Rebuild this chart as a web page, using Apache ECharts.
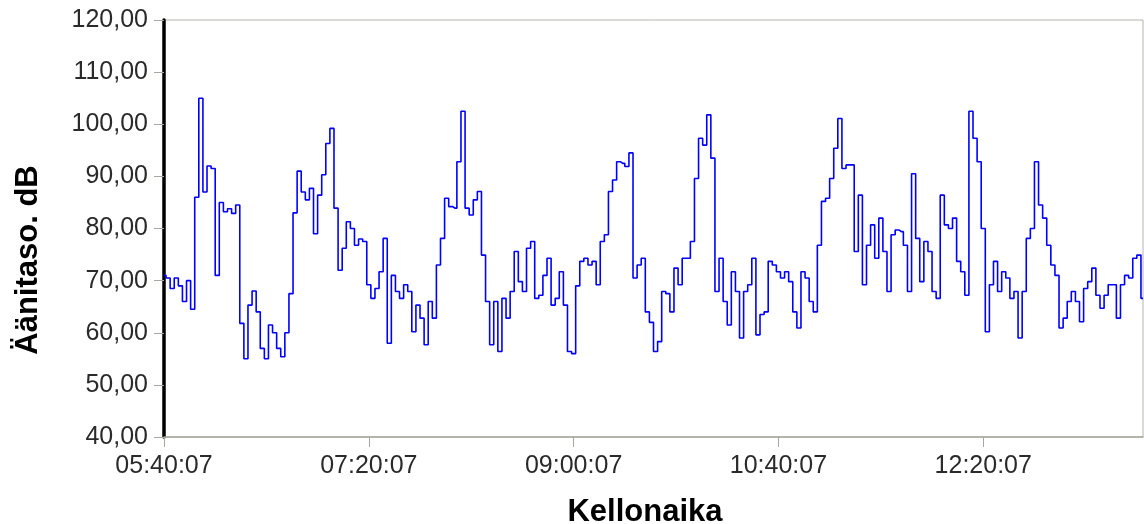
<!DOCTYPE html>
<html>
<head>
<meta charset="utf-8">
<script src="https://cdn.jsdelivr.net/npm/echarts@6/dist/echarts.min.js"></script>
<style>
  html, body { margin: 0; padding: 0; background: #fff; }
  #chart { width: 1144px; height: 524px; }
</style>
</head>
<body>
<div id="chart"></div>
<script>
// Sound level readings, one every two minutes from 05:40:07
const startTime = '05:40:07';
const stepMinutes = 2;
const levels = [
  71, 70.5, 68.5, 70.5, 69, 66, 70, 64.5, 86, 105,
  87, 92, 91.5, 71, 85, 83.2, 83.8, 82.9, 84.5, 61.8,
  55, 65.3, 68, 64, 57, 55, 61.5, 60, 57, 55.4,
  60, 67.5, 83, 91, 87, 85.5, 87.7, 79, 86.4, 90.3,
  96.3, 99.2, 83.9, 72, 76.2, 81.3, 80, 76.8, 78, 77.5,
  69.2, 66.6, 68.5, 71.7, 78.1, 58, 71, 67.9, 66.6, 69.2,
  67.9, 60.2, 65.3, 62.8, 57.7, 66, 62.8, 73, 78.1, 85.8,
  84.2, 83.9, 92.8, 102.5, 83.9, 82.6, 85.5, 87.1, 74.9, 66,
  57.7, 66, 56.4, 66.6, 62.8, 67.9, 75.6, 69.8, 67.9, 76.2,
  77.5, 66.6, 67.2, 71, 74.3, 65.3, 66.6, 71.7, 65.3, 56.4,
  56, 69, 73.7, 74.3, 73, 73.7, 69.2, 77.5, 78.8, 87.1,
  89.3, 92.8, 92.5, 91.9, 94.5, 70.5, 73, 74.3, 64, 62,
  56.4, 58.3, 67.9, 67.5, 64, 72.4, 69.2, 74.3, 74.3, 77.5,
  89.6, 97.3, 96, 101.8, 93.5, 67.9, 74.3, 66, 61.5, 71.7,
  67.9, 59, 67.9, 69.2, 74.3, 59.6, 63.5, 64, 73.7, 73,
  71.7, 70.5, 71.7, 69.8, 64, 60.9, 71.7, 70.5, 66, 64,
  76.8, 85.2, 85.8, 89.6, 95.4, 101.1, 91.5, 92.2, 92.2, 75.6,
  86.4, 69.2, 76.8, 80.7, 74.3, 82, 75.6, 67.9, 78.8, 79.7,
  79.4, 76.8, 67.9, 90.5, 78.1, 69.8, 77.5, 75.6, 67.9, 66.6,
  86.4, 80.7, 80, 82, 73.7, 71.7, 67.2, 102.5, 97.3, 92.8,
  80, 60.2, 69.2, 73.7, 67.9, 71.7, 70.5, 66.6, 67.9, 59,
  67.9, 78.1, 80, 92.8, 84.5, 82, 76.8, 73, 71, 60.9,
  62.8, 66, 67.9, 66, 62.1, 68.5, 69.8, 72.4, 67.2, 64.7,
  67.2, 69.2, 69.2, 62.8, 69.2, 71, 70.5, 74.3, 74.9, 66.6
];
const yTicks = { min: 40, max: 120, interval: 10 };
const xTitle = 'Kellonaika';
const yTitle = 'Äänitaso. dB';

// Clock-time category labels
function pad(n) { return String(n).padStart(2, '0'); }
const [h0, m0, s0] = startTime.split(':').map(Number);
const times = levels.map((_, i) => {
  const t = h0 * 60 + m0 + i * stepMinutes;
  return pad(Math.floor(t / 60) % 24) + ':' + pad(t % 60) + ':' + pad(s0);
});

const labelFont = '"Liberation Sans", Arial, sans-serif';
const chart = echarts.init(document.getElementById('chart'), null, { renderer: 'canvas' });
chart.setOption({
  animation: false,
  backgroundColor: '#ffffff',
  grid: {
    left: 164, right: 1, top: 20, bottom: 87,
    show: true, borderColor: '#b4b4ac', borderWidth: 1, backgroundColor: '#ffffff'
  },
  xAxis: {
    type: 'category',
    data: times,
    boundaryGap: false,
    axisLine: { lineStyle: { color: '#a8a8a0', width: 1.5 } },
    axisTick: { show: true, interval: 49, length: 10, lineStyle: { color: '#a8a8a0' } },
    axisLabel: {
      interval: 49, margin: 17,
      color: '#2a2a2a', fontSize: 25, fontFamily: labelFont
    },
    splitLine: { show: false }
  },
  yAxis: {
    type: 'value',
    min: yTicks.min, max: yTicks.max, interval: yTicks.interval,
    axisLine: { show: true, lineStyle: { color: '#000', width: 3.5 } },
    axisTick: { show: true, length: 10, lineStyle: { color: '#a8a8a0' } },
    axisLabel: {
      margin: 16, color: '#2a2a2a', fontSize: 25, fontFamily: labelFont,
      formatter: v => v.toFixed(2).replace('.', ',')
    },
    splitLine: { show: false }
  },
  graphic: [
    {
      type: 'text', x: 28, y: 260, rotation: Math.PI / 2,
      style: {
        text: yTitle, fill: '#000', font: 'bold 31px "Liberation Sans", Arial, sans-serif',
        align: 'center', verticalAlign: 'middle'
      }
    },
    {
      type: 'text', x: 645, y: 512,
      style: {
        text: xTitle, fill: '#000', font: 'bold 31px "Liberation Sans", Arial, sans-serif',
        align: 'center', verticalAlign: 'middle'
      }
    }
  ],
  series: [{
    type: 'line',
    data: levels,
    step: 'middle',
    symbol: 'none',
    lineStyle: { color: '#0000ff', width: 1.6 },
    emphasis: { disabled: true }
  }]
});
</script>
</body>
</html>
